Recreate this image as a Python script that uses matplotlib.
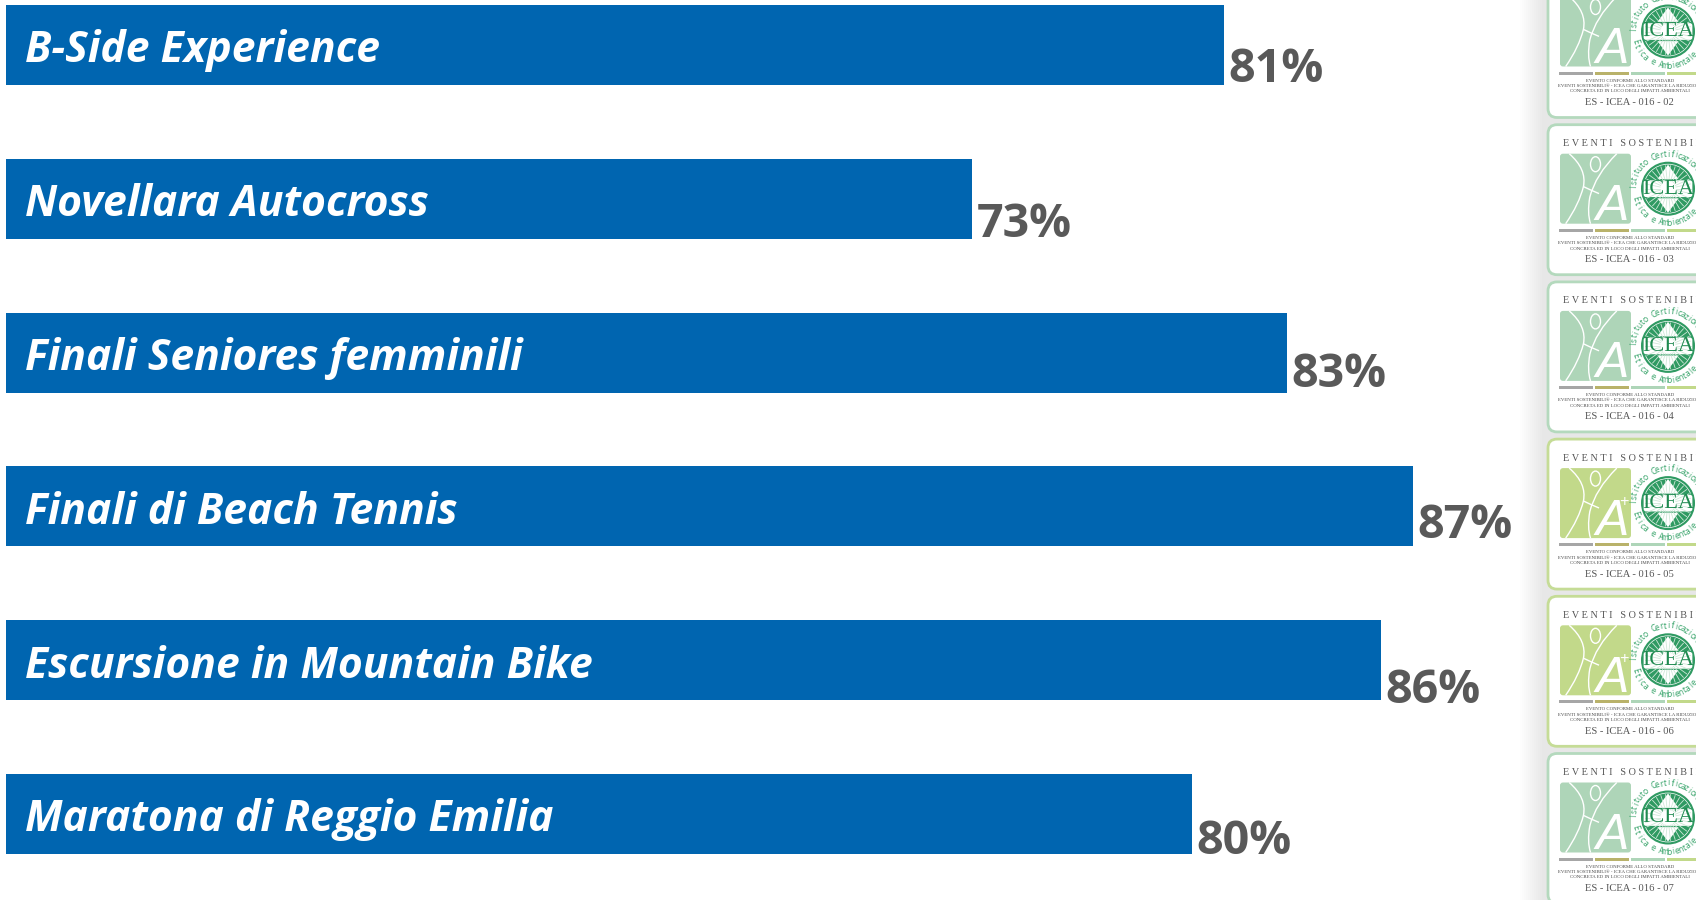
import numpy as np
import matplotlib
matplotlib.use('Agg')
import matplotlib.pyplot as plt
from matplotlib.patches import FancyBboxPatch, Circle, Ellipse, Rectangle, PathPatch, Polygon
from matplotlib.path import Path

events = ['B-Side Experience', 'Novellara Autocross', 'Finali Seniores femminili',
          'Finali di Beach Tennis', 'Escursione in Mountain Bike', 'Maratona di Reggio Emilia']
scores = [81, 73, 83, 87, 86, 80]

badge_codes = ['02', '03', '04', '05', '06', '07']
badge_grades = ['A', 'A', 'A', 'A+', 'A+', 'A']

BLUE = '#0065b0'
GREY = '#595959'
SANS = ['Open Sans', 'Noto Sans', 'DejaVu Sans']
SERIF = ['Liberation Serif', 'DejaVu Serif']
GREEN_PANEL = '#aed5b8'
LIME_PANEL = '#c2d98a'
SEAL = '#2f9a62'

# percent labels do not sit at the same height on every row (points)
label_lift = [2, 1, 4.1, 5.7, -2.1, 0.2]

fig = plt.figure(figsize=(16.96, 9), dpi=100, facecolor='white')

# bars sit on a truncated axis, the left edge of the axes is about 42.3%
ax = fig.add_axes([6 / 1696, 0, 1690 / 1696, 1])
ax.barh(range(len(events)), scores, height=0.52, color=BLUE)
ax.set_xlim(42.31, 42.31 + 1690 / 31.48)
ax.set_ylim(5.559, -0.2926)
ax.axis('off')

for i, (name, val) in enumerate(zip(events, scores)):
    ax.annotate(name, xy=(42.31, i), xytext=(14, -12.5), textcoords='offset points',
                color='white', fontsize=30.7, fontweight='bold', fontstyle='italic',
                family=SANS, va='baseline', ha='left')
    ax.annotate(f'{val}%', xy=(val, i + 0.26), xytext=(3, label_lift[i]), textcoords='offset points',
                color=GREY, fontsize=33.6, fontweight='bold', family=SANS,
                va='baseline', ha='left')

# certificates down the right side, this axes works in pixels
deco = fig.add_axes([0, 0, 1, 1])
deco.set_xlim(0, 1696)
deco.set_ylim(900, 0)
deco.axis('off')
deco.patch.set_alpha(0)

# soft shadow behind the whole column
for k in range(12):
    grow = 28 - k * 2
    deco.add_patch(Rectangle((1548 - grow, -10), 300, 920, fc='#808080', ec='none', alpha=0.011))


def curve(x0, y0, w, h, pts):
    # white body lines of the logo, pts are fractions of the panel
    verts = [(x0 + w * a, y0 + h * b) for a, b in pts]
    codes = [Path.MOVETO] + [Path.CURVE3] * (len(verts) - 1)
    deco.add_patch(PathPatch(Path(verts, codes), fc='none', ec='white', lw=1.0))


def ring_text(cx, cy, word, start, step, radius, top_half):
    # ring lettering, one rotated character at a time
    for n, ch in enumerate(word):
        ang = start + n * step
        a = np.radians(ang)
        rot = -ang - 90 if top_half else 90 - ang
        deco.text(cx + radius * np.cos(a), cy + radius * np.sin(a), ch, family=SANS, fontsize=6.2,
                  color='#3aa56c', ha='center', va='center', rotation=rot, rotation_mode='anchor')


def badge(top, code, grade):
    left = 1548
    panel_col = LIME_PANEL if grade == 'A+' else GREEN_PANEL
    edge_col = '#c5dc96' if grade == 'A+' else '#b4d9bd'

    deco.add_patch(FancyBboxPatch((left, top), 300, 150,
                                  boxstyle='round,pad=0,rounding_size=9',
                                  fc='white', ec=edge_col, lw=2.0))

    deco.text(1563, top + 19, 'E V E N T I   S O S T E N I B I L I', family=SERIF,
              fontsize=7.4, color='#555555', va='center', ha='left')

    # green panel with the figure
    px, py, pw, ph = 1560, top + 29, 71, 70
    deco.add_patch(FancyBboxPatch((px, py), pw, ph, boxstyle='round,pad=0,rounding_size=3',
                                  fc=panel_col, ec='none'))
    curve(px, py, pw, ph, [(0.13, 0), (0.38, 0.22), (0.33, 0.47), (0.27, 0.72), (0.08, 1)])
    curve(px, py, pw, ph, [(0.80, 0), (0.50, 0.30), (0.42, 0.62), (0.38, 0.85), (0.43, 1)])
    curve(px, py, pw, ph, [(0.33, 0.47), (0.43, 0.52), (0.55, 0.57)])
    deco.add_patch(Ellipse((px + pw * 0.50, py + ph * 0.15), 10, 15, fc='none', ec='white', lw=1.0))
    deco.text(px + pw * 0.74, py + ph * 0.95, 'A', color='white', fontsize=36, fontstyle='italic',
              family=['Liberation Sans Narrow', 'Liberation Sans'], ha='center', va='baseline')
    if grade == 'A+':
        deco.text(px + pw * 0.90, py + ph * 0.50, '+', color='white', fontsize=12,
                  family=SANS, ha='center', va='center')

    # seal
    cx, cy = 1668, top + 64
    deco.add_patch(Circle((cx, cy), 27, fc=SEAL, ec='none'))
    deco.add_patch(Circle((cx, cy), 24.5, fc='none', ec='white', lw=0.5))
    for ang in np.arange(0, 360, 12):
        a = np.radians(ang)
        deco.plot([cx + 8 * np.cos(a), cx + 23 * np.cos(a)], [cy + 8 * np.sin(a), cy + 23 * np.sin(a)],
                  color='#cfe8d8', lw=0.6)
    deco.add_patch(Polygon([(cx, cy - 24), (cx - 11, cy - 9), (cx + 11, cy - 9)], fc='white', ec='none'))
    deco.add_patch(Polygon([(cx, cy + 24), (cx - 11, cy + 9), (cx + 11, cy + 9)], fc='white', ec='none'))
    deco.add_patch(FancyBboxPatch((cx - 25, cy - 9), 50, 18, boxstyle='round,pad=0,rounding_size=3',
                                  fc='white', ec=SEAL, lw=0.9))
    deco.text(cx, cy + 0.5, 'ICEA', family=SERIF, fontsize=16, color='#1f8a50',
              ha='center', va='center')

    ring_text(cx, cy, 'Istituto', 183, 6.6, 34.5, True)
    ring_text(cx, cy, 'Certificazione', 246, 6.2, 34.5, True)
    ring_text(cx, cy, 'Etica', 163, -8, 34.5, False)
    ring_text(cx, cy, 'e', 117, -8, 34.5, False)
    ring_text(cx, cy, 'Ambientale', 102, -6.8, 34.5, False)

    # four colour strip under the logos
    for sx, col in zip([1559, 1595, 1631, 1667], ['#a6a6a6', '#b9b26a', '#aed5b8', '#c2d98a']):
        deco.add_patch(Rectangle((sx, top + 104), 34, 3, fc=col, ec='none'))

    for dy, line in [(113, 'EVENTO CONFORME ALLO STANDARD'),
                     (118.5, 'EVENTI SOSTENIBILI® - ICEA CHE GARANTISCE LA RIDUZIONE'),
                     (124, 'CONCRETA ED IN LOCO DEGLI IMPATTI AMBIENTALI')]:
        deco.text(1630, top + dy, line, family=SERIF, fontsize=3.5, color='#444444',
                  ha='center', va='center')
    deco.text(1629, top + 135, f'ES - ICEA - 016 - {code}', family=SERIF, fontsize=7.6, color='#555555',
              ha='center', va='center')


for n, (code, grade) in enumerate(zip(badge_codes, badge_grades)):
    badge(-32.5 + 157.2 * n, code, grade)

fig.savefig('out.png', dpi=100)
